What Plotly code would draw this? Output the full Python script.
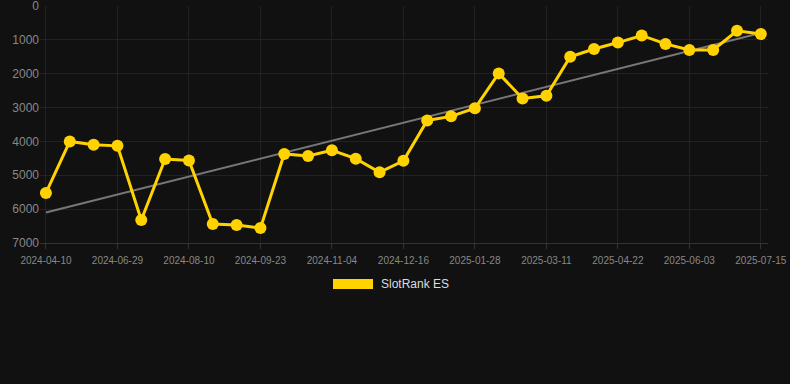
import plotly.graph_objects as go

dates = [
    "2024-04-10", "2024-05-04", "2024-06-01", "2024-06-29", "2024-07-13", "2024-07-27",
    "2024-08-10", "2024-08-24", "2024-09-09", "2024-09-23", "2024-10-07", "2024-10-21",
    "2024-11-04", "2024-11-18", "2024-12-02", "2024-12-16", "2024-12-30", "2025-01-14",
    "2025-01-28", "2025-02-11", "2025-02-25", "2025-03-11", "2025-03-25", "2025-04-08",
    "2025-04-22", "2025-05-06", "2025-05-20", "2025-06-03", "2025-06-17", "2025-07-01",
    "2025-07-15",
]
rank = [
    5520, 4000, 4100, 4130, 6320, 4520, 4560, 6440, 6470, 6560,
    4370, 4430, 4260, 4510, 4910, 4570, 3380, 3260, 3020, 1990,
    2730, 2650, 1500, 1270, 1080, 870, 1120, 1300, 1300, 730,
    830,
]
trend_x = [dates[0], dates[-1]]
trend_y = [6100, 800]
tick_labels = dates[::3]
y_ticks = [0, 1000, 2000, 3000, 4000, 5000, 6000, 7000]
series_name = "SlotRank ES"

fig = go.Figure()
fig.add_trace(go.Scatter(
    x=trend_x, y=trend_y, mode="lines",
    line=dict(color="#777777", width=2), showlegend=False, hoverinfo="skip",
))
fig.add_trace(go.Scatter(
    x=dates, y=rank, mode="lines+markers", name=series_name,
    line=dict(color="#FFD200", width=3),
    marker=dict(color="#FFD200", size=12),
    showlegend=False,
))

L, R, T, B = 40, 22, 6, 141
W, H = 790, 384
pw, ph = W - L - R, H - T - B

def px(x):
    return (x - L) / pw

def py(y):
    return (H - B - y) / ph

fig.add_shape(type="rect", xref="paper", yref="paper",
              x0=px(333), x1=px(373), y0=py(289), y1=py(279),
              fillcolor="#FFD200", line=dict(width=0))
fig.add_annotation(xref="paper", yref="paper", x=px(379), y=py(284),
                   text=series_name, showarrow=False, xanchor="left", yanchor="middle",
                   font=dict(size=12, color="#dddddd"))

fig.update_layout(
    width=W, height=H,
    margin=dict(l=L, r=R, t=T, b=B, autoexpand=False),
    paper_bgcolor="#111111", plot_bgcolor="#111111",
    font=dict(family="Liberation Sans, Arial, sans-serif", color="#888888"),
    showlegend=False,
)
fig.update_xaxes(
    type="category", categoryorder="array", categoryarray=dates,
    range=[-0.25, 30.3],
    tickmode="array", tickvals=tick_labels, ticktext=tick_labels,
    tickfont=dict(size=10, color="#888888"),
    showgrid=True, gridcolor="#222222", gridwidth=1,
    ticks="outside", ticklen=5, tickcolor="#333333",
    showline=True, linecolor="#333333", linewidth=1,
    zeroline=False, ticklabeloverflow="allow", automargin=False,
    ticklabelstandoff=3,
)
fig.update_yaxes(
    range=[7000, 0],
    tickmode="array", tickvals=y_ticks,
    tickfont=dict(size=12, color="#888888"),
    showgrid=True, gridcolor="#222222", gridwidth=1,
    zeroline=False, ticks="", showline=False,
    ticklabeloverflow="allow", automargin=False,
)

fig.write_html(
    "out.html",
    config={"displayModeBar": False},
    post_script="document.body.style.margin='0';document.body.style.background='#111111';",
)
